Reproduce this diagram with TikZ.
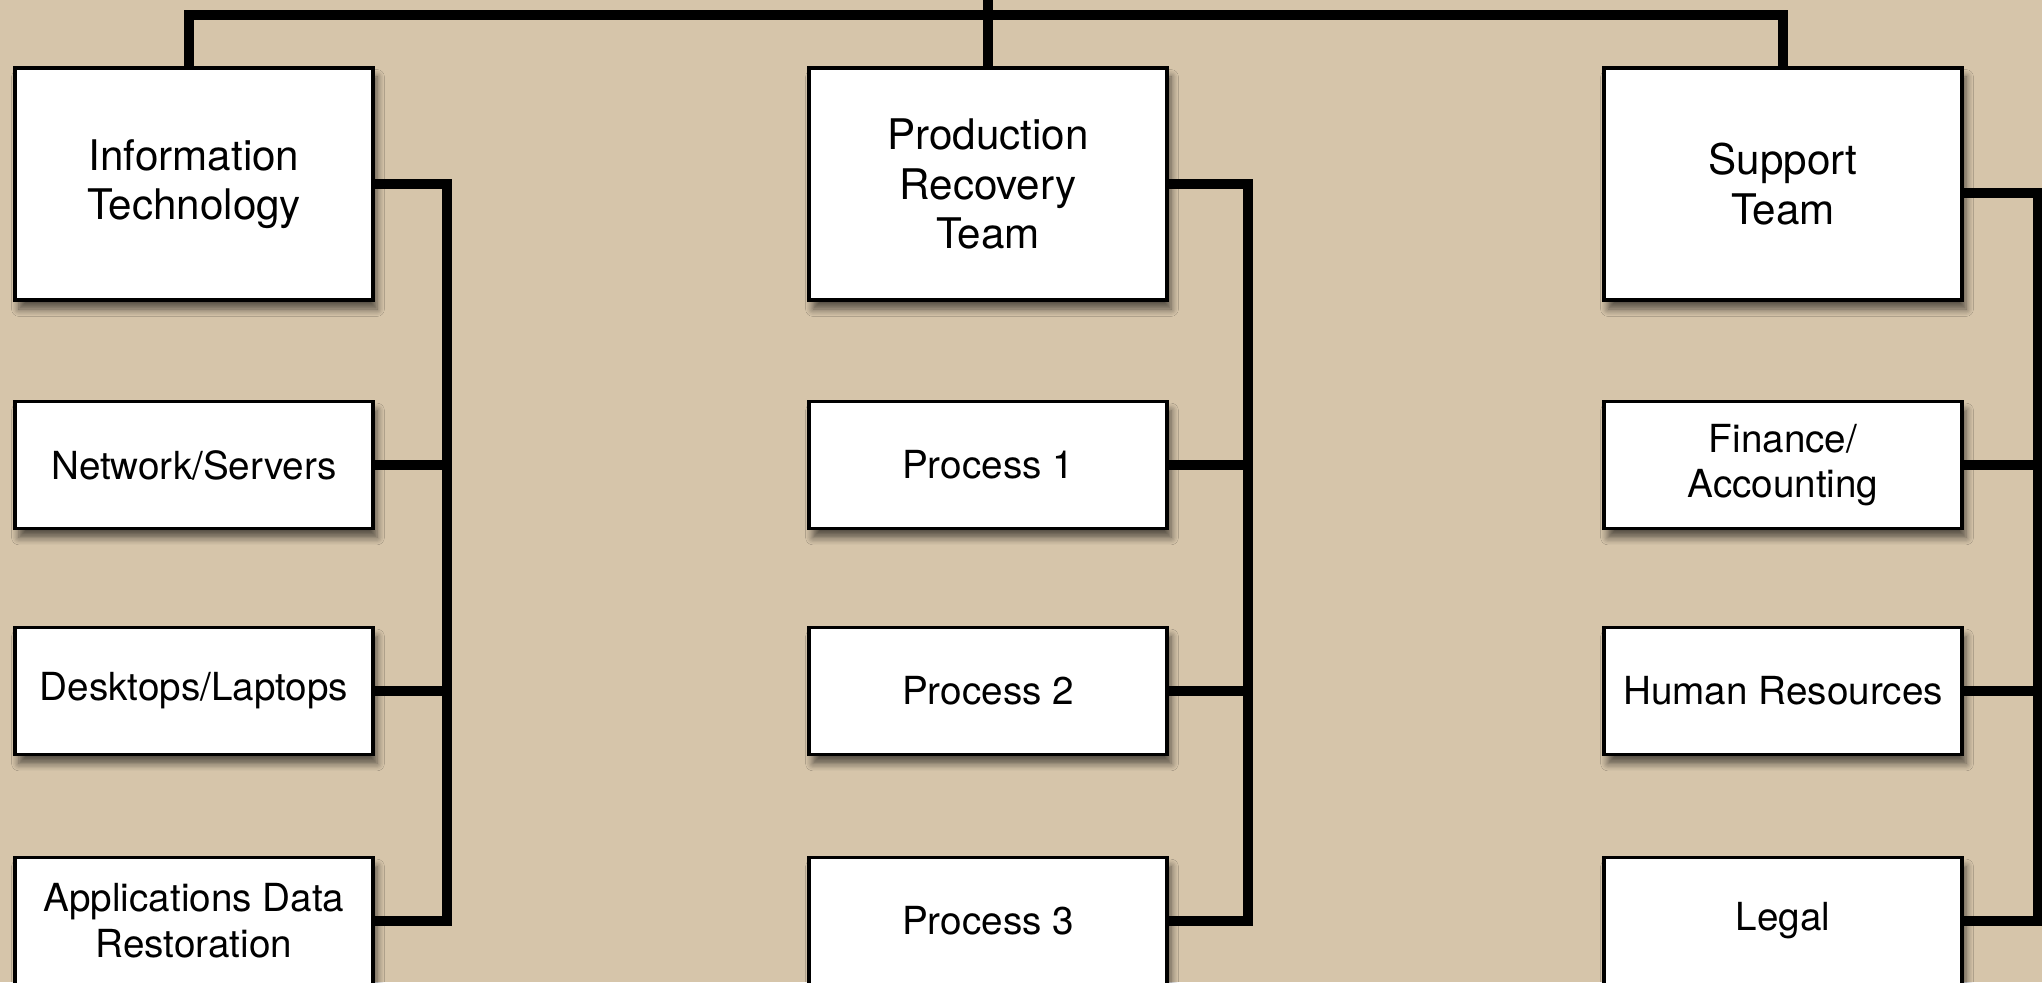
\documentclass[tikz,border=0pt]{standalone}
\usepackage{fontspec}
\setmainfont{TeX Gyre Heros}
\usetikzlibrary{shadows.blur}
\definecolor{paper}{RGB}{214,197,170}
\tikzset{team/.style={draw=black,line width=0.9pt,fill=white,
  minimum width=3.58cm,minimum height=2.32cm,align=center,
  font=\fontsize{12}{14}\selectfont,
  blur shadow={shadow xshift=0.04cm,shadow yshift=-0.09cm,shadow blur steps=6,shadow opacity=60}},
 unit/.style={team,minimum height=1.27cm,font=\fontsize{11}{13}\selectfont},
 link/.style={draw=black,line width=2.9pt,line join=miter},
 }

\begin{document}
\begin{tikzpicture}
    \fill[paper] (0,0) rectangle (20.42,-9.82);
    \useasboundingbox (0,0) rectangle (20.42,-9.82);
    % team heads
    \node[team] (it) at (1.94,-1.84) {Information\\Technology};
    \node[team] (prt) at (9.88,-1.84) {Production\\Recovery\\Team};
    \node[team] (st) at (17.83,-1.84) {Support\\Team};
    % units
    \node[unit] (net) at (1.94,-4.65) {Network/Servers};
    \node[unit] (desk) at (1.94,-6.91) {Desktops/Laptops};
    \node[unit] (app) at (1.94,-9.21) {Applications Data\\Restoration};
    \node[unit] (procA) at (9.88,-4.65) {Process 1};
    \node[unit] (procB) at (9.88,-6.91) {Process 2};
    \node[unit] (procC) at (9.88,-9.21) {Process 3};
    \node[unit] (fin) at (17.83,-4.65) {Finance/\\Accounting};
    \node[unit] (hr) at (17.83,-6.91) {Human Resources};
    \node[unit] (legal) at (17.83,-9.21) {Legal};
    % connectors
    \coordinate (bus) at (0,-0.15);
    \coordinate (top) at (9.88,0);
    \coordinate (itspine) at (4.47,0);
    \coordinate (prtspine) at (12.48,0);
    \coordinate (stspine) at (20.38,0);
    \draw[link] ([xshift=-0.05cm]it.north) |- (bus -| st.north) -- (st.north);
    \draw[link] (top) -- (prt.north);
    \draw[link] (it.east) -| (itspine |- app.east) -- (app.east);
    \draw[link] (net.east) -- (net.east -| itspine);
    \draw[link] (desk.east) -- (desk.east -| itspine);
    \draw[link] (prt.east) -| (prtspine |- procC.east) -- (procC.east);
    \draw[link] (procA.east) -- (procA.east -| prtspine);
    \draw[link] (procB.east) -- (procB.east -| prtspine);
    \draw[link] ([yshift=-0.09cm]st.east) -| (stspine |- legal.east) -- (legal.east);
    \draw[link] (fin.east) -- (fin.east -| stspine);
    \draw[link] (hr.east) -- (hr.east -| stspine);
\end{tikzpicture}
\end{document}
